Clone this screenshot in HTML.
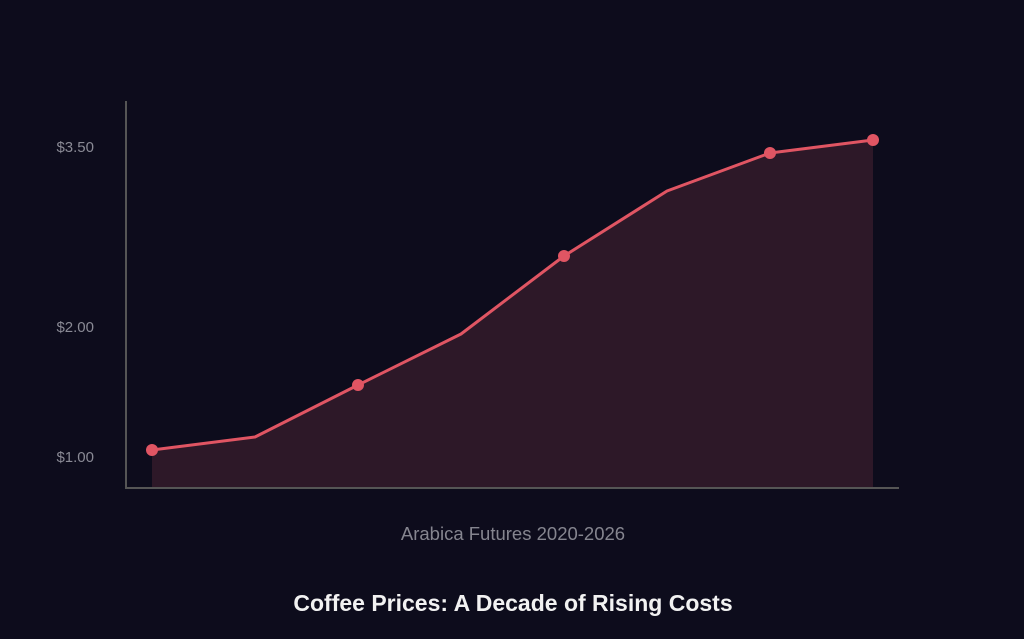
<!DOCTYPE html>
<html><head><style>
html,body{margin:0;padding:0;background:#0d0c1c;}
</style></head><body>
<svg width="1024" height="639" xmlns="http://www.w3.org/2000/svg" style="display:block">
<rect width="1024" height="639" fill="#0d0c1c"/>
<polygon points="152,450 255,437 358,385 461,334 564,256 667,191 770,153 873,140 873,488 152,488" fill="#2d1828"/>
<line x1="126" y1="101" x2="126" y2="489" stroke="#555" stroke-width="2"/>
<line x1="125" y1="488" x2="899" y2="488" stroke="#555" stroke-width="2"/>
<polyline points="152,450 255,437 358,385 461,334 564,256 667,191 770,153 873,140" fill="none" stroke="#e05563" stroke-width="3" stroke-linejoin="round"/>
<g fill="#e05563">
<circle cx="152" cy="450" r="6"/><circle cx="358" cy="385" r="6"/><circle cx="564" cy="256" r="6"/><circle cx="770" cy="153" r="6"/><circle cx="873" cy="140" r="6"/>
</g>
<g font-family="Liberation Sans, sans-serif" font-size="15" fill="#8a8a95" text-anchor="end">
<text x="94" y="152">$3.50</text>
<text x="94" y="332">$2.00</text>
<text x="94" y="462">$1.00</text>
</g>
<text x="513" y="540" font-family="Liberation Sans, sans-serif" font-size="18.5" fill="#85858f" text-anchor="middle">Arabica Futures 2020-2026</text>
<text x="513" y="611" font-family="Liberation Sans, sans-serif" font-size="23" font-weight="bold" fill="#f2f2f2" text-anchor="middle">Coffee Prices: A Decade of Rising Costs</text>
</svg>
</body></html>
